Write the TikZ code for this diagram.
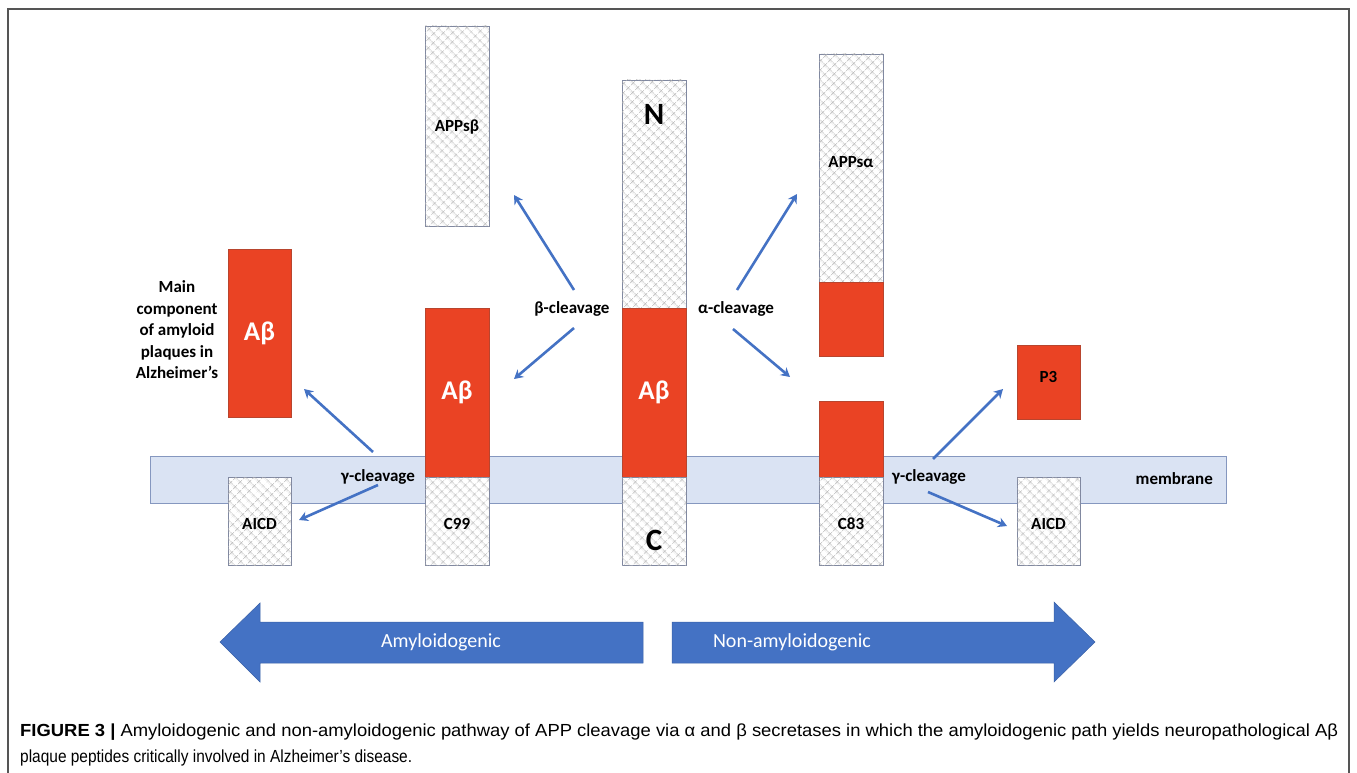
\documentclass[tikz,border=0pt]{standalone}
\usepackage{fontspec}
\setmainfont{Carlito}
\newfontfamily\capfont{Liberation Sans}
\usepackage{graphicx}
\usetikzlibrary{patterns.meta,arrows.meta,calc}
\definecolor{abred}{HTML}{EA4324}
\definecolor{redline}{HTML}{B8452E}
\definecolor{memfill}{HTML}{DAE3F3}
\definecolor{memdraw}{HTML}{8597BF}
\definecolor{arrblue}{HTML}{4472C4}
\definecolor{hatchc}{HTML}{B2B2B2}
\definecolor{boxc}{HTML}{8088A0}
\definecolor{framec}{HTML}{555555}
\begin{document}
\begin{tikzpicture}[x=1pt,y=-1pt,
  hatchbox/.style={draw=boxc, line width=0.7pt, fill=white,
    postaction={pattern={Hatch[angle=45,distance=6.5pt,line width=0.45pt]}, pattern color=hatchc},
    inner sep=0pt, outer sep=0pt, anchor=north west},
  redbox/.style={draw=redline, line width=0.7pt, fill=abred, inner sep=0pt, outer sep=0pt, anchor=north west},
  lbl/.style={font=\bfseries\fontsize{17}{21.5}\selectfont, text=black, inner sep=0pt},
  ablbl/.style={font=\bfseries\fontsize{27}{30}\selectfont, text=white, inner sep=0pt},
  bigl/.style={font=\bfseries\fontsize{31}{34}\selectfont, text=black, inner sep=0pt},
  conn/.style={draw=arrblue, line width=2.6pt, -{Stealth[length=9pt,width=10pt]}},
  bigarrow/.style={fill=arrblue, draw=arrblue!85!black, line width=0.5pt},
  arrtext/.style={font=\fontsize{20}{24}\selectfont, text=white, inner sep=0pt},
  captext/.style={anchor=base west, inner sep=0pt}
]
\useasboundingbox (0,0) rectangle (1357,773);
% outer frame
\draw[framec, line width=1.5pt] (8,773) -- (8,9) -- (1349,9) -- (1349,773);

% membrane
\node[draw=memdraw, line width=0.8pt, fill=memfill, inner sep=0pt, anchor=north west,
  minimum width=1076pt, minimum height=47pt] (mem) at (150,456) {};
\node[lbl, anchor=east] (memlbl) at (1213,479) {membrane};

% left side: Abeta and AICD
\node[redbox, minimum width=63pt, minimum height=168pt] (abL) at (228,249) {};
\node[ablbl] (abLt) at (abL.center) {Aβ};
\node[lbl, align=center, anchor=center] (mainlbl) at (177,330)
  {Main\\component\\of amyloid\\plaques in\\Alzheimer’s};
\node[hatchbox, minimum width=63pt, minimum height=88pt] (aicdL) at (228,477) {};
\node[lbl] (aicdLt) at (259.5,524) {AICD};

% C99 and APPsbeta
\node[hatchbox, minimum width=64pt, minimum height=200pt] (appsb) at (425,26) {};
\node[lbl] (appsbt) at (457,127) {APPsβ};
\node[redbox, minimum width=64pt, minimum height=169pt] (c99r) at (425,308) {};
\node[ablbl] (c99rt) at (457,392) {Aβ};
\node[hatchbox, minimum width=64pt, minimum height=88pt] (c99h) at (425,477) {};
\node[lbl] (c99t) at (457,524) {C99};

% central APP
\node[hatchbox, minimum width=64pt, minimum height=228pt] (appN) at (622,80) {};
\node[bigl] (Nt) at (654,114) {N};
\node[redbox, minimum width=64pt, minimum height=169pt] (appA) at (622,308) {};
\node[ablbl] (appAt) at (654,392) {Aβ};
\node[hatchbox, minimum width=64pt, minimum height=88pt] (appC) at (622,477) {};
\node[bigl] (Ct) at (654,540) {C};

% APPsalpha and C83
\node[hatchbox, minimum width=64pt, minimum height=228pt] (appsa) at (819,54) {};
\node[lbl] (appsat) at (851,162) {APPsα};
\node[redbox, minimum width=64pt, minimum height=74pt] (appsar) at (819,282) {};
\node[redbox, minimum width=64pt, minimum height=76pt] (c83r) at (819,401) {};
\node[hatchbox, minimum width=64pt, minimum height=88pt] (c83h) at (819,477) {};
\node[lbl] (c83t) at (851,524) {C83};

% right side: P3 and AICD
\node[redbox, minimum width=63pt, minimum height=74pt] (p3) at (1017,345) {};
\node[lbl] (p3t) at (1048.5,377) {P3};
\node[hatchbox, minimum width=63pt, minimum height=88pt] (aicdR) at (1017,477) {};
\node[lbl] (aicdRt) at (1048.5,524) {AICD};

% cleavage labels
\node[lbl] (gL) at (378,477) {γ-cleavage};
\node[lbl] (bcl) at (572,309) {β-cleavage};
\node[lbl] (acl) at (736,309) {α-cleavage};
\node[lbl] (gR) at (929,477) {γ-cleavage};

% connector end points
\coordinate (gLa) at (373,452); \coordinate (gLb) at (304,389);
\coordinate (gLc) at (378,485); \coordinate (gLd) at (299,520);
\coordinate (bca) at (574,290); \coordinate (bcb) at (514,195);
\coordinate (bcc) at (574,328); \coordinate (bcd) at (514,379);
\coordinate (aca) at (737,290); \coordinate (acb) at (797,194);
\coordinate (acc) at (733,329); \coordinate (acd) at (790,377);
\coordinate (gRa) at (933,459); \coordinate (gRb) at (1003,389);
\coordinate (gRc) at (928,492); \coordinate (gRd) at (1007,526);

\draw[conn] (gLa) -- (gLb);
\draw[conn] (gLc) -- (gLd);
\draw[conn] (bca) -- (bcb);
\draw[conn] (bcc) -- (bcd);
\draw[conn] (aca) -- (acb);
\draw[conn] (acc) -- (acd);
\draw[conn] (gRa) -- (gRb);
\draw[conn] (gRc) -- (gRd);

% big pathway arrows
\draw[bigarrow] (643,622) -- (260,622) -- (260,603) -- (220,642) -- (260,682) -- (260,663) -- (643,663) -- cycle;
\node[arrtext] (amy) at (441,642) {Amyloidogenic};
\draw[bigarrow] (672,622) -- (1054,622) -- (1054,602) -- (1095,642) -- (1054,682) -- (1054,663) -- (672,663) -- cycle;
\node[arrtext] (nonamy) at (792,642) {Non-amyloidogenic};

% caption
\node[captext] (cap1) at (20,736)
  {\resizebox{1318pt}{\height}{\capfont\fontsize{17.5}{20}\selectfont\textbf{FIGURE 3 |} Amyloidogenic and non-amyloidogenic pathway of APP cleavage via α and β secretases in which the amyloidogenic path yields neuropathological Aβ}};
\node[captext] (cap2) at (20,762)
  {\resizebox{392pt}{\height}{\capfont\fontsize{17.5}{20}\selectfont plaque peptides critically involved in Alzheimer’s disease.}};
\end{tikzpicture}
\end{document}
